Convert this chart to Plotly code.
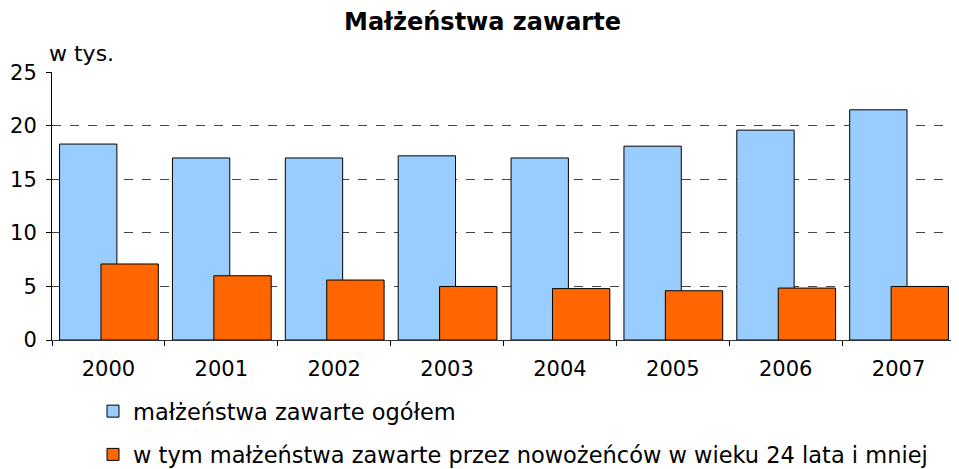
import plotly.graph_objects as go

years = ["2000", "2001", "2002", "2003", "2004", "2005", "2006", "2007"]
ogolem = [18.3, 17.0, 17.0, 17.2, 17.0, 18.1, 19.6, 21.5]
do_24 = [7.1, 6.0, 5.6, 5.0, 4.8, 4.6, 4.85, 5.0]

FONT = "DejaVu Sans, Verdana, sans-serif"

# the page body keeps its default 8px margin, so the figure is 8px smaller
W, H = 951, 461
L, T, R, B = 44, 64, 4, 129
PH = H - T - B

fig = go.Figure()
fig.add_trace(go.Bar(
    x=years, y=ogolem, name="małżeństwa zawarte ogółem",
    width=0.508, offset=-0.433, legendgroup="a",
    marker=dict(color="#99ccff", line=dict(color="black", width=1)),
))
fig.add_trace(go.Bar(
    x=years, y=do_24,
    name="w tym małżeństwa zawarte przez nowożeńców w wieku 24 lata i mniej",
    width=0.508, offset=-0.066, legendgroup="b",
    marker=dict(color="#ff6600", line=dict(color="black", width=1)),
))

fig.update_layout(
    width=W, height=H,
    barmode="overlay",
    paper_bgcolor="white", plot_bgcolor="white",
    margin=dict(l=L, r=R, t=T, b=B, autoexpand=False),
    font=dict(family=FONT, size=21, color="black"),
    title=dict(text="<b>Małżeństwa zawarte</b>", xref="container", x=474.5 / W,
               xanchor="center", yref="container", y=1 - 14 / H, yanchor="middle",
               font=dict(size=24)),
    showlegend=True,
    legend=dict(orientation="v", x=(85 - L) / (W - L - R), xanchor="left",
                y=(T + PH - 382) / PH, yanchor="top",
                tracegroupgap=11, font=dict(size=22.5), itemwidth=30),
    annotations=[dict(text="w tys.", xref="paper", yref="paper", x=-0.005, y=1.0,
                      xanchor="left", yanchor="bottom", yshift=4, showarrow=False,
                      font=dict(size=22))],
)
fig.update_xaxes(
    type="category", showline=True, linecolor="#333333", linewidth=1,
    ticks="outside", tickson="boundaries", ticklen=5, tickcolor="black",
    ticklabelstandoff=10, showgrid=False, automargin=False,
)
fig.update_yaxes(
    range=[0, 25.03], tickvals=[0, 5, 10, 15, 20, 25], showline=True,
    linecolor="black", linewidth=1,
    ticks="outside", ticklen=5, tickcolor="black", ticklabelstandoff=5,
    showgrid=True, gridcolor="#444444", griddash="dash", gridwidth=1,
    zeroline=False, automargin=False,
)

fig.write_html("out.html")
